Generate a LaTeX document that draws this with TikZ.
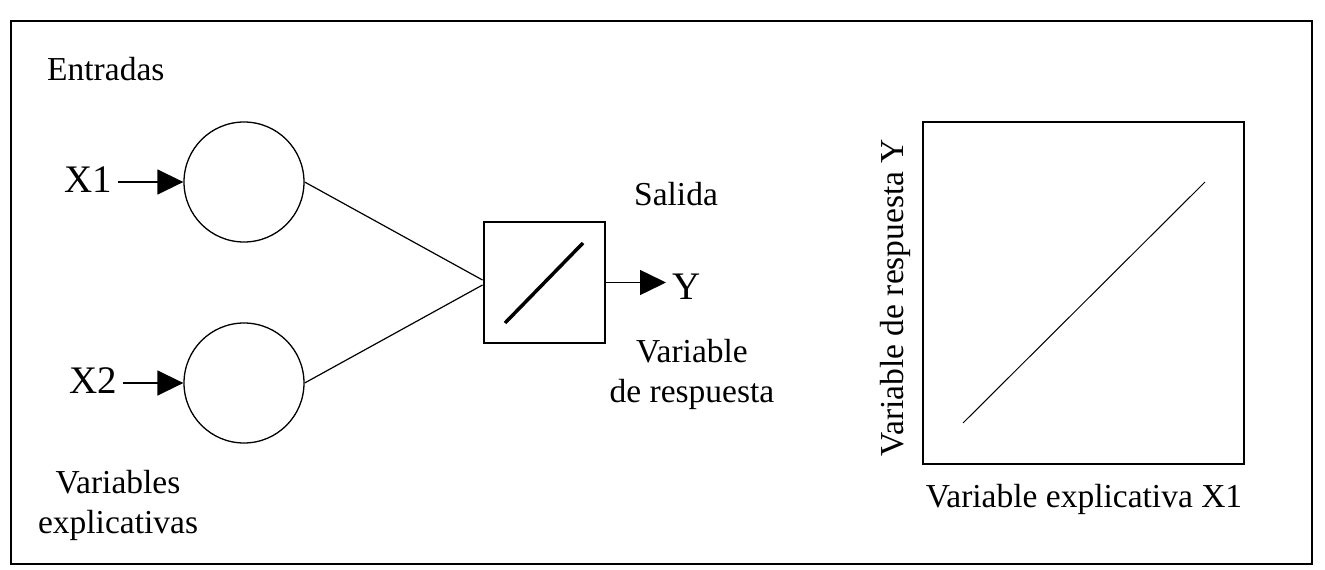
\documentclass[tikz,border=0pt]{standalone}
\usepackage{fontspec}
\setmainfont{Liberation Serif}
\usetikzlibrary{arrows.meta,positioning}
\tikzset{
  neurona/.style={circle, draw, line width=1.3pt, minimum size=120pt, inner sep=0pt},
  caja/.style={draw, line width=2pt, inner sep=0pt},
  etiqueta/.style={inner sep=0pt, font=\fontsize{33.5}{40}\selectfont},
  var/.style={inner sep=6pt, font=\fontsize{39}{46}\selectfont},
}
\begin{document}
\begin{tikzpicture}[x=1pt, y=-1pt, >={Triangle[length=26pt,width=25pt]}]
                \useasboundingbox (0,0) rectangle (1325,570);
                \draw[line width=2pt] (11,21) rectangle (1312,564);
                \node[etiqueta, anchor=base west] (entradas) at (47,80) {Entradas};
                \node[neurona] (n1) at (244,182) {};
                \node[neurona] (n2) at (244,383) {};
                \node[var, anchor=base east] (x1) at (118,192) {X1};
                \node[var, anchor=base east] (x2) at (123,393) {X2};
                \draw[->, line width=1.5pt] (x1.east |- n1) -- (n1);
                \draw[->, line width=1.5pt] (x2.east |- n2) -- (n2);
                \node[etiqueta, anchor=north, align=center] (explic) at (118,470) {Variables\\explicativas};
                \node[caja, minimum size=121pt] (box) at (544,282.5) {};
                \draw[line width=3.5pt] ([shift={(-39,40.5)}]box.center) -- ([shift={(39,-39.5)}]box.center);
                \draw[line width=1.2pt] (n1.east) -- ([yshift=2.5pt]box.west);
                \draw[line width=1.2pt] (n2.east) -- ([yshift=-2.5pt]box.west);
                \node[etiqueta, anchor=base] (salida) at (676,205) {Salida};
                \node[var, anchor=base west] (y) at (666,299) {Y};
                \draw[->, line width=1.5pt] (box.east) -- (y.west |- box.east);
                \node[etiqueta, anchor=north, align=center] (resp) at (692,339) {Variable\\de respuesta};
                \node[caja, line width=2.3pt, minimum width=321pt, minimum height=342pt] (plot) at (1083.5,293) {};
                \draw[line width=1pt] (963,423) -- (1205,182);
                \node[etiqueta, anchor=base] (ejex) at (1084,507) {Variable explicativa X1};
                \node[etiqueta, anchor=base, rotate=90] (ejey) at (903,297.5) {Variable de respuesta Y};
            \end{tikzpicture}
\end{document}
